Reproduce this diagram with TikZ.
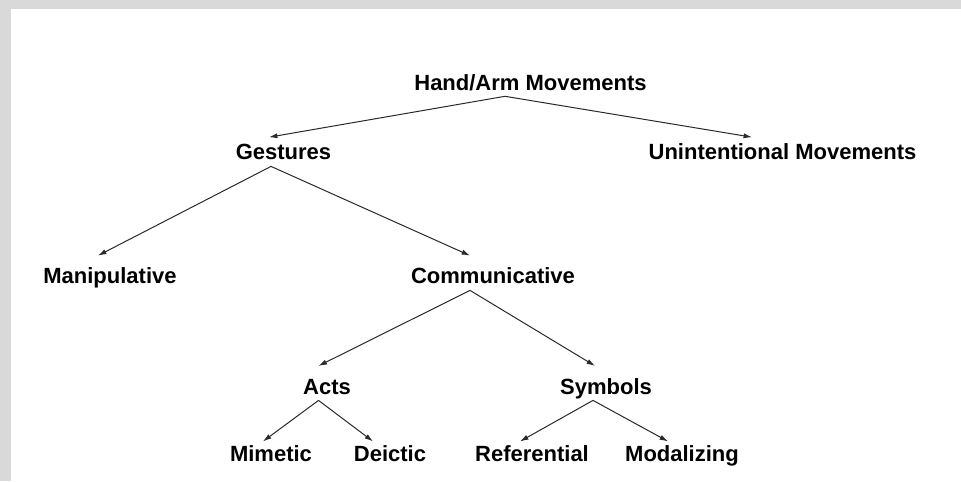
\documentclass[tikz,border=0pt]{standalone}
\usepackage{fontspec}
\setmainfont{Liberation Sans}
\usetikzlibrary{arrows.meta}
\definecolor{framegray}{HTML}{D9D9D9}
\definecolor{linegray}{HTML}{2A2A2A}
\begin{document}
\begin{tikzpicture}[x=0.5pt,y=-0.5pt,
  label/.style={inner sep=0pt,text height=7.9pt,text depth=0pt,
    font=\fontsize{11}{13}\selectfont\bfseries},
  arr/.style={draw=linegray,line width=0.5pt,
    -{Latex[length=4.2pt,width=2.6pt]}}]
  % page and frame strips
  \useasboundingbox (0,0) rectangle (961,481);
  \fill[white] (0,0) rectangle (961,481);
  \fill[framegray] (0,0) rectangle (961,9);
  \fill[framegray] (0,0) rectangle (11,481);

  % hierarchy labels
  \node[label] (hand)  at (530.5,83)  {Hand/Arm Movements};
  \node[label] (gest)  at (283.5,151.5) {Gestures};
  \node[label] (unint) at (782.5,151.5) {Unintentional Movements};
  \node[label] (manip) at (110,275.5) {Manipulative};
  \node[label] (comm)  at (493,275.5) {Communicative};
  \node[label] (acts)  at (327,386.5) {Acts};
  \node[label] (symb)  at (606,386.5) {Symbols};
  \node[label] (mim)   at (271,454)   {Mimetic};
  \node[label] (deic)  at (390,454)   {Deictic};
  \node[label] (ref)   at (532,454)   {Referential};
  \node[label] (mod)   at (682,454)   {Modalizing};

  % branches
  \draw[arr] ([shift={(-25.5,5)}]hand.south) -- ([shift={(-14.5,-6)}]gest.north);
  \draw[arr] ([shift={(-25.5,5)}]hand.south) -- ([shift={(-30.5,-6)}]unint.north);
  \draw[arr] ([shift={(-12.5,6.6)}]gest.south) -- ([shift={(-12,-11.6)}]manip.north);
  \draw[arr] ([shift={(-12.5,6.6)}]gest.south) -- ([shift={(-23,-11.6)}]comm.north);
  \draw[arr] ([shift={(-23,6.6)}]comm.south) -- ([shift={(-8.5,-12.3)}]acts.north);
  \draw[arr] ([shift={(-23,6.6)}]comm.south) -- ([shift={(-11,-12.3)}]symb.north);
  \draw[arr] ([shift={(-8.5,5.6)}]acts.south) -- ([shift={(-8,-4.3)}]mim.north);
  \draw[arr] ([shift={(-8.5,5.6)}]acts.south) -- ([shift={(-17,-4.3)}]deic.north);
  \draw[arr] ([shift={(-13,5.6)}]symb.south) -- ([shift={(-12,-4.3)}]ref.north);
  \draw[arr] ([shift={(-13,5.6)}]symb.south) -- ([shift={(-14,-4.3)}]mod.north);
\end{tikzpicture}
\end{document}
